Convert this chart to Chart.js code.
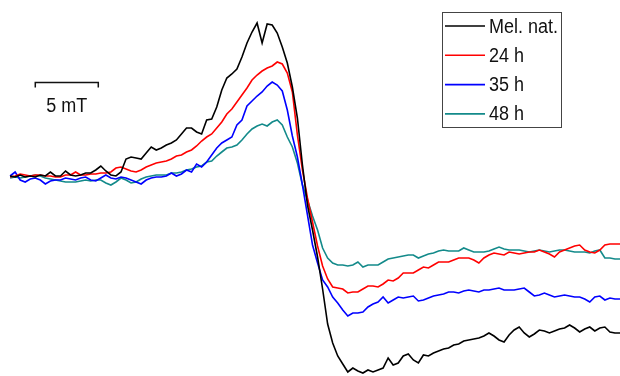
<!DOCTYPE html>
<html>
<head>
<meta charset="utf-8">
<script src="https://cdn.jsdelivr.net/npm/chart.js@4/dist/chart.umd.min.js"></script>
<style>
  html, body { margin: 0; padding: 0; background: #fff; }
  #wrap { width: 620px; height: 376px; }
</style>
</head>
<body>
<div id="wrap"><canvas id="epr"></canvas></div>
<script>
// Magnetic field sweep (mT, relative to start of scan)
const field = [
  0.0, 0.4, 0.8, 1.2, 1.6, 2.0, 2.4, 2.8, 3.2, 3.6, 4.0, 4.4, 4.8, 5.2, 5.6, 6.0,
  6.4, 6.8, 7.2, 7.6, 8.0, 8.4, 8.8, 9.2, 9.6, 10.0, 10.4, 10.8, 11.2, 11.6, 12.0,
  12.4, 12.8, 13.2, 13.6, 14.0, 14.4, 14.8, 15.2, 15.6, 16.0, 16.4, 16.8, 17.2,
  17.6, 18.0, 18.4, 18.8, 19.2, 19.6, 20.0, 20.4, 20.8, 21.2, 21.6, 22.0, 22.4,
  22.8, 23.2, 23.6, 24.0, 24.4, 24.8, 25.2, 25.6, 26.0, 26.4, 26.8, 27.2, 27.6,
  28.0, 28.4, 28.8, 29.2, 29.6, 30.0, 30.4, 30.8, 31.2, 31.6, 32.0, 32.4, 32.8,
  33.2, 33.6, 34.0, 34.4, 34.8, 35.2, 35.6, 36.0, 36.4, 36.8, 37.2, 37.6, 38.0,
  38.4, 38.8, 39.2, 39.6, 40.0, 40.4, 40.8, 41.2, 41.6, 42.0, 42.4, 42.8, 43.2,
  43.6, 44.0, 44.4, 44.8, 45.2, 45.6, 46.0, 46.4, 46.8, 47.2, 47.6, 48.0, 48.4
];

// EPR signal, arbitrary units
const melNat = [
  2, 1, 3, 1, 2, 1, 3, 2, 6, 2, 2, 7, 3, 2, 3, 5, 5, 8, 12, 7, 3, 2, 6, 19, 21,
  20, 19, 25, 31, 28, 30, 33, 35, 38, 44, 50, 50, 46, 44, 58, 59, 71, 88, 100,
  104, 109, 121, 135, 146, 155, 135, 154, 153, 145, 131, 115, 91, 60, 13, -27,
  -52, -79, -111, -146, -165, -178, -186, -194, -190, -193, -195, -192, -194,
  -192, -190, -180, -187, -185, -178, -176, -182, -185, -177, -178, -175, -173,
  -171, -170, -167, -166, -163, -162, -161, -160, -158, -155, -158, -162, -164,
  -157, -152, -149, -155, -159, -156, -152, -153, -155, -153, -151, -150, -147,
  -150, -154, -151, -149, -153, -150, -149, -154, -155, -155
];
const h24 = [
  1, 2, 4, 3, 2, 3, 3, 2, 2, 1, 1, 3, 3, 6, 3, 3, 4, 4, 5, 5, 6, 10, 11, 9, 7,
  6, 8, 11, 13, 15, 16, 17, 19, 22, 23, 26, 28, 32, 37, 41, 44, 50, 56, 64, 69,
  76, 83, 90, 98, 103, 107, 110, 112, 116, 114, 105, 86, 43, 8, -20, -44, -68,
  -88, -101, -109, -110, -111, -115, -114, -114, -111, -108, -108, -109, -106,
  -102, -103, -100, -95, -95, -95, -92, -89, -90, -87, -84, -84, -84, -82, -80,
  -80, -80, -82, -85, -80, -77, -75, -76, -77, -74, -75, -76, -75, -74, -74,
  -72, -74, -76, -79, -74, -72, -70, -68, -67, -72, -74, -75, -72, -67, -66,
  -66, -66
];
const h35 = [
  2, 6, -2, -4, -1, 0, -2, -6, -3, -2, -2, 0, -1, -2, 0, 1, -2, -3, 0, 3, 0, -1,
  1, 0, -2, -4, -6, -2, 0, 1, 1, 2, 5, 2, 4, 8, 6, 14, 11, 16, 23, 30, 35, 38,
  41, 53, 58, 72, 77, 82, 86, 92, 96, 93, 87, 68, 42, 21, -7, -37, -67, -85,
  -102, -109, -119, -125, -132, -138, -135, -135, -134, -129, -126, -124, -119,
  -125, -122, -119, -120, -119, -118, -123, -122, -120, -118, -117, -116, -114,
  -114, -115, -113, -112, -113, -114, -112, -112, -111, -110, -112, -112, -112,
  -111, -110, -114, -118, -117, -115, -117, -119, -118, -117, -118, -119, -119,
  -121, -124, -119, -118, -122, -120, -121, -121
];
const h48 = [
  0, 1, 0, 1, 2, 3, 2, 0, -1, -2, -3, -4, -4, -4, -3, -2, -3, -2, -2, -5, -7,
  -4, 0, -2, -5, -4, -1, 1, 2, 3, 3, 3, 5, 5, 6, 8, 9, 11, 12, 16, 17, 22, 26,
  30, 31, 33, 38, 44, 49, 52, 54, 52, 56, 58, 53, 41, 31, 15, -7, -22, -38, -52,
  -70, -80, -85, -87, -87, -88, -87, -84, -89, -87, -87, -87, -84, -81, -80,
  -79, -78, -77, -77, -80, -78, -76, -75, -73, -72, -73, -73, -73, -70, -72,
  -74, -74, -74, -73, -71, -69, -71, -72, -72, -72, -73, -74, -73, -72, -73,
  -74, -73, -72, -72, -73, -74, -74, -74, -75, -73, -72, -80, -80, -81, -81
];

const seriesLabels = ['Mel. nat.', '24 h', '35 h', '48 h'];
const seriesColors = ['#000000', '#ff0000', '#0000ff', '#138a8a'];
const seriesValues = [melNat, h24, h35, h48];

// Field scale bar: 5 mT starting at 2 mT
const scaleBarStart = 2.0;
const scaleBarLength = 5;
const scaleBarText = '5 mT';

// Slightly condensed sans-serif lettering
const FONT = '20px "Liberation Sans", Arial, sans-serif';
const TEXT_SQUEEZE = 0.9;

function drawCondensed(ctx, text, x, y, align) {
  ctx.save();
  ctx.translate(x, y);
  ctx.scale(TEXT_SQUEEZE, 1);
  ctx.textAlign = align;
  ctx.fillText(text, 0, 0);
  ctx.restore();
}

const scaleBarPlugin = {
  id: 'scaleBar',
  afterDraw(chart) {
    const { ctx, scales } = chart;
    const x0 = scales.x.getPixelForValue(scaleBarStart);
    const x1 = scales.x.getPixelForValue(scaleBarStart + scaleBarLength);
    const y = 82.5;
    ctx.save();
    ctx.strokeStyle = '#111';
    ctx.lineWidth = 1.5;
    ctx.beginPath();
    ctx.moveTo(x0, y + 5);
    ctx.lineTo(x0, y);
    ctx.lineTo(x1, y);
    ctx.lineTo(x1, y + 5);
    ctx.stroke();
    ctx.fillStyle = '#111';
    ctx.font = FONT;
    ctx.textBaseline = 'alphabetic';
    drawCondensed(ctx, scaleBarText, (x0 + x1) / 2, 112, 'center');
    ctx.restore();
  }
};

const boxLegendPlugin = {
  id: 'boxLegend',
  afterDraw(chart) {
    const { ctx } = chart;
    const left = 442.5, top = 12.5, width = 119, height = 115;
    ctx.save();
    ctx.fillStyle = '#fff';
    ctx.fillRect(left, top, width, height);
    ctx.strokeStyle = '#444';
    ctx.lineWidth = 1;
    ctx.strokeRect(left, top, width, height);
    ctx.font = FONT;
    ctx.textBaseline = 'middle';
    chart.data.datasets.forEach((ds, i) => {
      const y = 26 + i * 29.3;
      ctx.strokeStyle = ds.borderColor;
      ctx.lineWidth = 1.6;
      ctx.beginPath();
      ctx.moveTo(445, y);
      ctx.lineTo(485, y);
      ctx.stroke();
      ctx.fillStyle = '#111';
      drawCondensed(ctx, ds.label, 489, y + 1, 'left');
    });
    ctx.restore();
  }
};

new Chart(document.getElementById('epr'), {
  type: 'line',
  data: {
    datasets: seriesValues.map((vals, i) => ({
      label: seriesLabels[i],
      data: field.map((f, k) => ({ x: f, y: vals[k] })),
      borderColor: seriesColors[i],
      borderWidth: 1.6,
      pointRadius: 0,
      tension: 0,
      fill: false
    }))
  },
  options: {
    responsive: true,
    maintainAspectRatio: false,
    animation: false,
    layout: { padding: 0 },
    plugins: { legend: { display: false }, tooltip: { enabled: false } },
    scales: {
      x: { type: 'linear', min: -0.8, max: 48.4, display: false },
      y: { type: 'linear', min: -198, max: 178, display: false }
    }
  },
  plugins: [scaleBarPlugin, boxLegendPlugin]
});
</script>
</body>
</html>
